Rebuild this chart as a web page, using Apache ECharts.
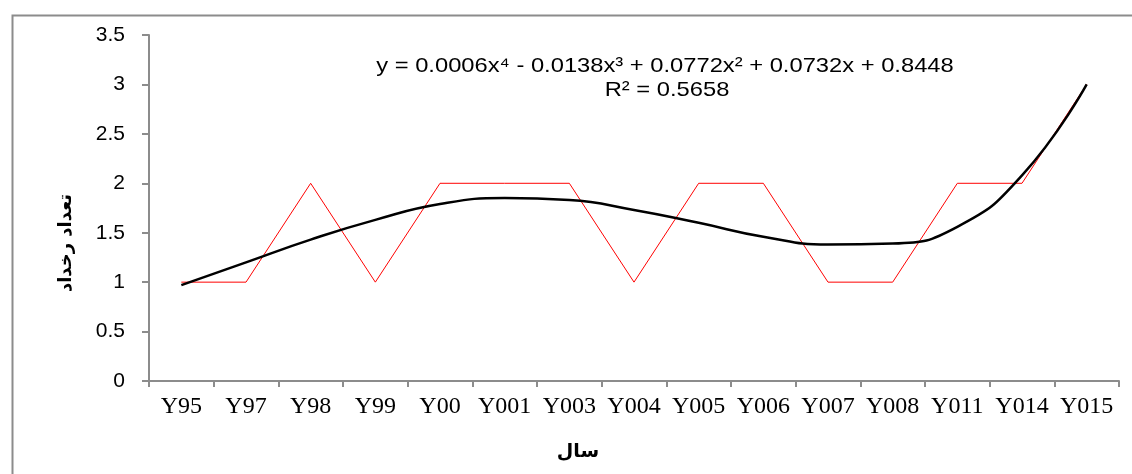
<!DOCTYPE html>
<html><head><meta charset="utf-8">
<script src="https://cdn.jsdelivr.net/npm/echarts@6/dist/echarts.min.js"></script>
<style>html,body{margin:0;padding:0;background:#fff}#c{width:1132px;height:474px}</style>
</head><body><div id="c"></div>
<script>
const categories = ['Y95','Y97','Y98','Y99','Y00','Y001','Y003','Y004','Y005','Y006','Y007','Y008','Y011','Y014','Y015'];
const counts = [1,1,2,1,2,2,2,1,2,2,1,1,2,2,3];
const trend = [0.97,1.2,1.43,1.63,1.79,1.85,1.83,1.73,1.6,1.46,1.38,1.39,1.56,2.08,3.0];
const yTicks = [0,0.5,1,1.5,2,2.5,3,3.5];
const equation = 'y = 0.0006x⁴ - 0.0138x³ + 0.0772x² + 0.0732x + 0.8448';
const rSquared = 'R² = 0.5658';
const yTitle = 'تعداد رخداد';
const xTitle = 'سال';

const chart = echarts.init(document.getElementById('c'), null, {renderer:'canvas'});
const axisGray = '#8c8c8c';
chart.setOption({
  animation:false,
  grid:{left:149, top:35, width:970, height:346},
  xAxis:{type:'category', data:categories, boundaryGap:true,
    axisLine:{lineStyle:{color:axisGray,width:2}},
    axisTick:{show:true, length:6, lineStyle:{color:axisGray,width:2}},
    axisLabel:{color:'#000', fontFamily:'Liberation Serif', fontSize:24, margin:14, interval:0}},
  yAxis:{type:'value', min:0, max:3.5, interval:0.5,
    axisLine:{show:true, lineStyle:{color:axisGray,width:2}},
    axisTick:{show:true, length:7, lineStyle:{color:axisGray,width:2}},
    splitLine:{show:false},
    axisLabel:{color:'#000', fontFamily:'Liberation Sans', fontSize:21, margin:24,
      formatter:v=>String(yTicks.find(t=>Math.abs(t-v)<1e-9) ?? v)}},
  series:[
    {type:'line', data:counts, symbol:'none', lineStyle:{color:'#ff0000', width:1}, z:2},
    {type:'line', data:trend, symbol:'none', smooth:0.5, lineStyle:{color:'#000', width:2.5}, z:3}
  ],
  graphic:[
    {type:'rect', left:10, top:13, shape:{width:1140, height:480}, style:{fill:'none', stroke:'#8c8c8c', lineWidth:2}, silent:true, z:-1},
    {type:'text', x:665, y:66, scaleX:1.13, style:{text:equation, font:'21px "Liberation Sans"', fill:'#000', align:'center', verticalAlign:'middle'}},
    {type:'text', x:667, y:90, scaleX:1.13, style:{text:rSquared, font:'21px "Liberation Sans"', fill:'#000', align:'center', verticalAlign:'middle'}},
    {type:'text', x:66, y:243, rotation:Math.PI/2, style:{text:yTitle, font:'bold 18px "DejaVu Sans"', fill:'#000', align:'center', verticalAlign:'middle'}},
    {type:'text', x:578, y:452, style:{text:xTitle, font:'bold 19px "DejaVu Sans"', fill:'#000', align:'center', verticalAlign:'middle'}}
  ]
});
</script></body></html>
